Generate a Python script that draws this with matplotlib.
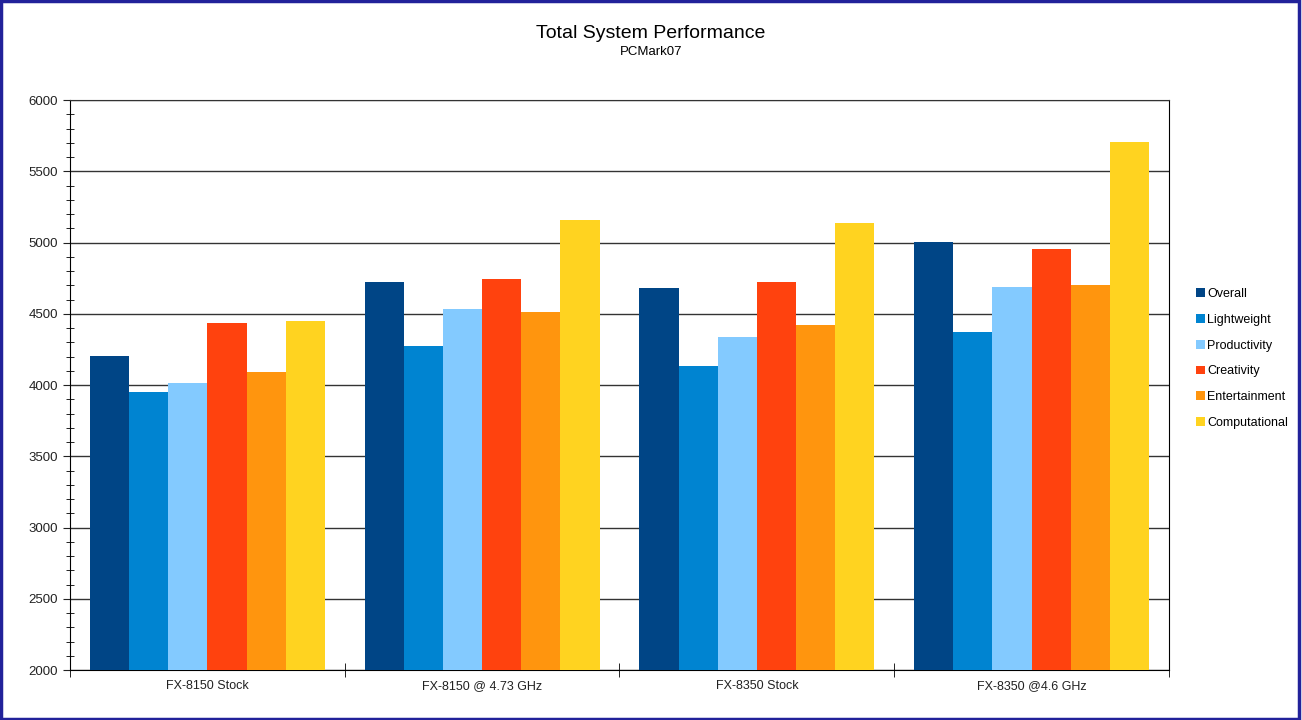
import matplotlib.pyplot as plt
import numpy as np
from matplotlib.patches import Rectangle
from matplotlib.ticker import MultipleLocator
import matplotlib.transforms as mtransforms

plt.rcParams['font.family'] = ['Liberation Sans', 'DejaVu Sans']

systems = ['FX-8150 Stock', 'FX-8150 @ 4.73 GHz', 'FX-8350 Stock', 'FX-8350 @4.6 GHz']
tests = ['Overall', 'Lightweight', 'Productivity', 'Creativity', 'Entertainment', 'Computational']
colors = ['#004586', '#0084d1', '#83caff', '#ff420e', '#ff950e', '#ffd320']

overall = [4203, 4725, 4683, 5001]
lightweight = [3953, 4274, 4133, 4372]
productivity = [4012, 4533, 4339, 4690]
creativity = [4435, 4742, 4725, 4954]
entertainment = [4093, 4510, 4421, 4700]
computational = [4449, 5158, 5135, 5703]
series = [overall, lightweight, productivity, creativity, entertainment, computational]

fig = plt.figure(figsize=(13.02, 7.2), dpi=100)
ax = fig.add_axes([0.0538, 0.0694, 0.8440, 0.7917])

x = np.arange(len(systems))
w = 0.1425
for i, (name, vals) in enumerate(zip(tests, series)):
    ax.bar(x + (i - 2.5) * w, vals, w, color=colors[i], label=name, zorder=3)

ax.set_xlim(-0.5, len(systems) - 0.5)
ax.set_ylim(2000, 6000)
ax.yaxis.set_major_locator(MultipleLocator(500))
ax.yaxis.set_minor_locator(MultipleLocator(100))
ax.grid(axis='y', which='major', color='#333333', linewidth=1, zorder=0)

ax.set_xticks(x)
ax.set_xticklabels([])
# category labels on a common baseline
trans = mtransforms.blended_transform_factory(ax.transData, fig.transFigure)
for xi, name in zip(x, systems):
    ax.text(xi, 1 - 689 / 720, name, transform=trans, ha='center', va='baseline',
            fontsize=9, color='#222222')
ax.set_xticks(np.arange(-0.5, len(systems)), minor=True)
ax.tick_params(axis='x', which='major', length=0)
ax.tick_params(axis='x', which='minor', direction='inout', length=10, color='black')
ax.tick_params(axis='y', which='major', direction='out', length=5, labelsize=9.5, colors='#222222')
ax.tick_params(axis='y', which='minor', direction='inout', length=6, color='black')

for s in ['left', 'bottom', 'right']:
    ax.spines[s].set_color('black')
ax.spines['top'].set_color('#333333')

fig.text(0.5, 0.954, 'Total System Performance', ha='center', va='center', fontsize=14)
fig.text(0.5, 0.928, 'PCMark07', ha='center', va='center', fontsize=9.5)

ax.legend(loc='center left', bbox_to_anchor=(0.910, 0.502), bbox_transform=fig.transFigure,
          frameon=False, fontsize=9, handlelength=0.7, handleheight=0.7,
          handletextpad=0.2, labelspacing=1.1)

fig.patches.append(Rectangle((0.001, 0.002), 0.997, 0.996, transform=fig.transFigure,
                             fill=False, edgecolor='#22229a', linewidth=2.5))

fig.savefig('out.png', dpi=100)
